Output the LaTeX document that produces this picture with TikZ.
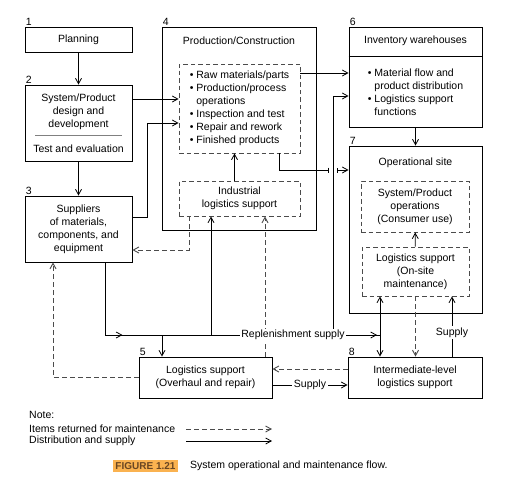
\documentclass[tikz,border=0pt]{standalone}
\usepackage{fontspec}
\setmainfont{Liberation Sans}
\usetikzlibrary{arrows.meta, positioning, calc, decorations.markings}
\definecolor{figorange}{RGB}{250,178,80}
\definecolor{figbrown}{RGB}{105,70,35}
\definecolor{dashgray}{RGB}{75,75,75}
\tikzset{barb/.tip={Straight Barb[length=5.5pt, width=6pt]}}

\begin{document}
\begin{tikzpicture}[
  x=1pt, y=1pt,
  every node/.style={font=\fontsize{10.5}{13}\selectfont, inner sep=0pt},
  box/.style={draw, line width=0.9pt, align=center},
  dbox/.style={draw=dashgray, line width=0.9pt, dash pattern=on 4.5pt off 3pt, align=center},
  num/.style={anchor=south west, inner sep=1pt},
  arrow/.style={-barb, line width=0.8pt},
  ret/.style={arrow, draw=dashgray, line width=0.9pt, dash pattern=on 5pt off 3pt},
  tag/.style={fill=white, inner sep=1.5pt},
  capbox/.style={fill=figorange, text=figbrown, inner sep=2pt,
    font=\fontsize{10}{12}\selectfont\bfseries}
]
  \useasboundingbox (0,0) rectangle (516,-487);

  % Left column
  \node[box, minimum width=107pt, minimum height=25pt, label={[num]north west:1}] (plan) at (78.5,-39.5) {Planning};
  \node[box, minimum width=107pt, minimum height=76pt, label={[num]north west:2}] (sys) at (78.5,-123)
    {System/Product\\design and\\development\\[12pt]Test and evaluation};
  \draw[gray, line width=1pt] ($(sys.center)+(-43.5,-12)$) -- ($(sys.center)+(43.5,-12)$);
  \node[box, minimum width=107pt, minimum height=66pt, label={[num]north west:3}] (sup) at (78.5,-229)
    {Suppliers\\of materials,\\components, and\\equipment};

  % Production block
  \node[box, minimum width=154pt, minimum height=203pt, label={[num]north west:4}] (prod) at (239,-128.5) {};
  \node (prodt) at (239,-41) {Production/Construction};
  \node[dbox, align=left, minimum width=121pt, minimum height=89pt] (proc) at (239.5,-108.5)
    {\textbullet\ Raw materials/parts\\
     \textbullet\ Production/process\\
     \phantom{\textbullet\ }operations\\
     \textbullet\ Inspection and test\\
     \textbullet\ Repair and rework\\
     \textbullet\ Finished products};
  \node[dbox, minimum width=121pt, minimum height=35pt] (ind) at (239.5,-198.5) {Industrial\\logistics support};

  % Inventory and site
  \node[box, minimum width=133pt, minimum height=100pt, label={[num]north west:6}] (inv) at (415.5,-77) {};
  \node (invt) at (415.5,-41) {Inventory warehouses};
  \draw[line width=0.9pt] ($(inv.north west)+(0,-30)$) -- ($(inv.north east)+(0,-30)$);
  \node[align=left] (invb) at (415.5,-92.5)
    {\textbullet\ Material flow and\\
     \phantom{\textbullet\ }product distribution\\
     \textbullet\ Logistics support\\
     \phantom{\textbullet\ }functions};
  \node[box, minimum width=133pt, minimum height=167pt, label={[num]north west:7}] (site) at (415.5,-229.5) {};
  \node (sitet) at (415.5,-163) {Operational site};
  \node[dbox, minimum width=108pt, minimum height=51pt] (ops) at (415,-206.5) {System/Product\\operations\\(Consumer use)};
  \node[dbox, minimum width=107pt, minimum height=49pt] (onsite) at (415.5,-271.5) {Logistics support\\(On-site\\maintenance)};

  % Bottom row
  \node[box, minimum width=133pt, minimum height=41pt, label={[num]north west:5}] (ovh) at (205.5,-377.5) {Logistics support\\(Overhaul and repair)};
  \node[box, minimum width=134pt, minimum height=41pt, label={[num]north west:8}] (ilev) at (415,-377.5) {Intermediate-level\\logistics support};

  % Distribution and supply
  \draw[arrow] (plan) -- (sys);
  \draw[arrow] (sys) -- (sup);
  \draw[arrow] ([yshift=24pt]sys.east) -- ([yshift=24pt]sys.east -| proc.west);
  \draw[arrow] ([yshift=12pt]sup.east) -- ++(15,0) |- ([yshift=-14.5pt]proc.west);
  \draw[arrow] ([xshift=-5pt]ind.north) -- ([xshift=-5pt]proc.south);
  \draw[arrow] ([yshift=35.5pt]proc.east) -- ([yshift=35.5pt]proc.east -| inv.west);
  \draw[arrow] (inv) -- (site);
  \draw[arrow] (onsite) -- (ops);

  % Replenishment line
  \coordinate (rL) at (105,-335);
  \coordinate (rV) at (333,-335);
  \coordinate (rR) at (380,-335);
  \coordinate (gL) at (329,-170);
  \coordinate (gR) at (337,-170);
  \draw[line width=0.8pt, -{Bar[width=5pt]}] ([xshift=40pt]proc.south) |- (gL);
  \draw[line width=0.8pt, {Bar[width=5pt]}-barb] (gR) -- (gR -| site.west);
  \draw[arrow] (rV) |- ([yshift=-19pt]inv.west);
  \draw[arrow] ([xshift=-43.5pt]ovh.north |- rL) -- ([xshift=-43.5pt]ovh.north);
  \draw[arrow] ([xshift=-28.5pt]ind.south |- rL) -- ([xshift=-28.5pt]ind.south);
  \draw[ret] ([xshift=59.5pt]ovh.north) -- ([xshift=59.5pt]ovh.north |- ind.south);
  \draw[line width=0.8pt, postaction={decorate}, decoration={markings,
      mark=at position 90pt with {\arrow{barb}},
      mark=at position -3pt with {\arrow{barb}}}]
    (sup.south -| rL) -- (rL) -- (rR);
  \node[tag] (repl) at (293,-335) {Replenishment supply};
  \draw[{barb}-{barb}, line width=0.8pt] ([xshift=-35.5pt]onsite.south) -- ([xshift=-35.5pt]onsite.south |- ilev.north);
  \draw[arrow] ([xshift=37pt]ilev.north) -- ([xshift=37pt]ilev.north |- onsite.south) node[tag, pos=0.4] {Supply};
  \draw[arrow] ([yshift=-7.5pt]ovh.east) -- ([yshift=-7.5pt]ovh.east -| ilev.west) node[tag, midway] {Supply};

  % Items returned for maintenance
  \draw[ret] ([xshift=-50.5pt]ind.south) |- ([yshift=-21pt]sup.east);
  \draw[ret] (ovh.west) -| ([xshift=-25.5pt]sup.south);
  \draw[ret] ([yshift=8.5pt]ilev.west) -- ([yshift=8.5pt]ilev.west -| ovh.east);
  \draw[ret] (onsite.south) -- (onsite.south |- ilev.north);

  % Note
  \node[anchor=west] (note) at (29,-415) {Note:};
  \node[anchor=west] (lret) at (29,-429) {Items returned for maintenance};
  \node[anchor=west] (lsup) at (29,-441) {Distribution and supply};
  \coordinate (k1) at (186,-429);
  \coordinate (k2) at (272,-429);
  \draw[ret] (k1) -- (k2);
  \draw[arrow] (k1 |- lsup) -- (k2 |- lsup);

  % Caption
  \node[capbox] (fig) at (145.5,-466) {FIGURE 1.21};
  \node[anchor=west] (figt) at (190,-466) {System operational and maintenance flow.};
\end{tikzpicture}
\end{document}
